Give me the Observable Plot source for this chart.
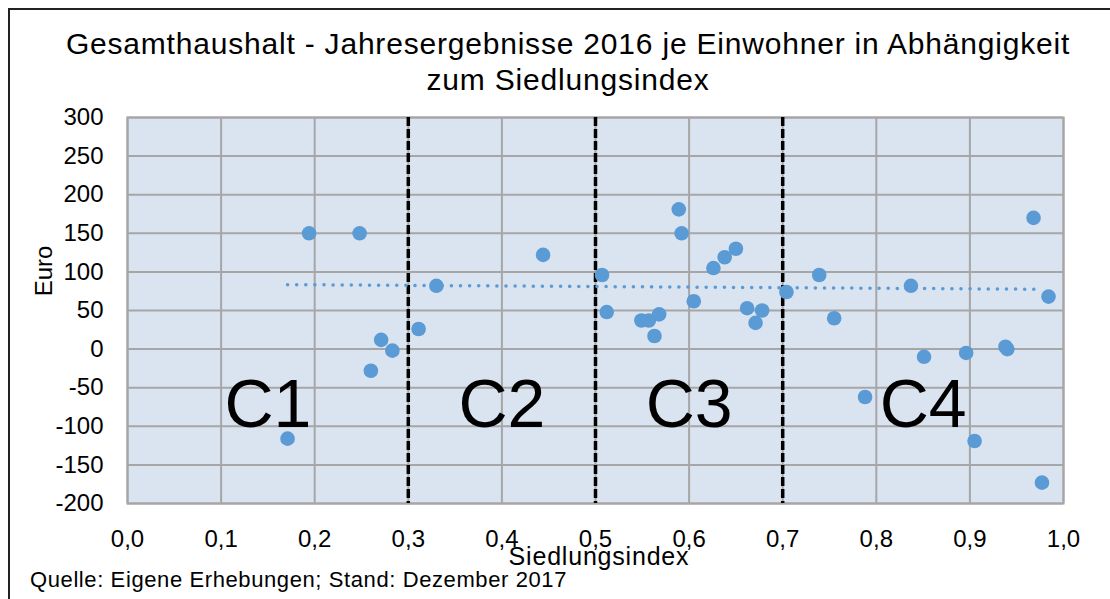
<!DOCTYPE html>
<html>
<head>
<meta charset="utf-8">
<script src="https://cdn.jsdelivr.net/npm/d3@7"></script>
<script src="https://cdn.jsdelivr.net/npm/@observablehq/plot@0.6"></script>
<style>
  html, body { margin: 0; padding: 0; background: #fff; }
  #wrap { position: relative; width: 1110px; height: 599px; overflow: hidden; font-family: "Liberation Sans", Arial, sans-serif; color: #000; }
  #border { position: absolute; left: 8px; top: 8px; width: 1110px; height: 600px; border-left: 2px solid #222; border-top: 2px solid #222; box-sizing: border-box; }
  #title { position: absolute; left: 0; top: 26px; width: 1136px; text-align: center; font-size: 30px; letter-spacing: 0.8px; line-height: 36px; }
  #chart { position: absolute; left: 0; top: 100px; }
  #ylab { position: absolute; left: 44px; top: 271px; font-size: 24px; transform: translate(-50%, -50%) rotate(-90deg); white-space: nowrap; }
  #xlab { position: absolute; left: 599px; top: 544px; font-size: 25px; line-height: 1; letter-spacing: 0.8px; transform: translateX(-50%); white-space: nowrap; }
  #caption { position: absolute; left: 30px; top: 569px; font-size: 22px; line-height: 1; letter-spacing: 0.6px; white-space: nowrap; }
</style>
</head>
<body>
<div id="wrap">
  <div id="border"></div>
  <div id="title">Gesamthaushalt - Jahresergebnisse 2016 je Einwohner in Abhängigkeit<br>zum Siedlungsindex</div>
  <div id="chart"></div>
  <div id="ylab">Euro</div>
  <div id="xlab">Siedlungsindex</div>
  <div id="caption">Quelle: Eigene Erhebungen; Stand: Dezember 2017</div>
</div>
<script>
// Siedlungsindex of each municipality
const siedlungsindex = [
  0.171, 0.194, 0.248, 0.260, 0.271, 0.283,
  0.311, 0.330, 0.444,
  0.507, 0.512, 0.549, 0.557, 0.563, 0.568, 0.589, 0.592, 0.605, 0.626, 0.638, 0.650, 0.662, 0.671, 0.678,
  0.704, 0.739, 0.755, 0.788, 0.837, 0.851, 0.896, 0.905, 0.938, 0.940, 0.968, 0.977, 0.984
];
// Jahresergebnis 2016 je Einwohner (Euro)
const euro = [
  -116, 150, 150, -28, 12, -2,
  26, 82, 122,
  96, 48, 37, 37, 17, 45, 181, 150, 62, 105, 119, 130, 53, 34, 50,
  74, 96, 40, -62, 82, -10, -5, -119, 3, 0, 170, -173, 68
];
// linear trend line
const trendX = [0.171, 0.977];
const trendY = [83.5, 77.5];
// class boundaries and labels
const classBounds = [0, 0.3, 0.5, 0.7, 1.0];
const classLabels = ["C1", "C2", "C3", "C4"];
const classLabelY = -101;
// ticks
const xTicks = [0, 0.1, 0.2, 0.3, 0.4, 0.5, 0.6, 0.7, 0.8, 0.9, 1.0];
const yTicks = [-200, -150, -100, -50, 0, 50, 100, 150, 200, 250, 300];

const points = siedlungsindex.map((x, i) => ({x, y: euro[i]}));
const trend = trendX.map((x, i) => ({x, y: trendY[i]}));
const dividers = classBounds.slice(1, -1);
const labels = classLabels.map((t, i) => ({t, x: (classBounds[i] + classBounds[i + 1]) / 2, y: classLabelY}));

const blue = "#5B9BD5";
const grid = "#A6A6A6";

const plot = Plot.plot({
  width: 1110,
  height: 460,
  marginTop: 17,
  marginBottom: 57,
  marginLeft: 127,
  marginRight: 47,
  style: {fontFamily: "'Liberation Sans', Arial, sans-serif", fontSize: "24px", color: "#000", background: "transparent"},
  x: {domain: [0, 1]},
  y: {domain: [-200, 300]},
  marks: [
    Plot.frame({fill: "#DAE3F0"}),
    Plot.gridX(xTicks, {stroke: grid, strokeOpacity: 1, strokeWidth: 2}),
    Plot.gridY(yTicks, {stroke: grid, strokeOpacity: 1, strokeWidth: 2}),
    Plot.frame({stroke: grid, strokeWidth: 2}),
    Plot.axisX(xTicks, {tickSize: 0, tickPadding: 26, tickFormat: d => d.toFixed(1).replace(".", ","), fontSize: 24, label: null}),
    Plot.axisY(yTicks, {tickSize: 0, tickPadding: 24, tickFormat: d => String(d), fontSize: 24, label: null}),
    Plot.ruleX(dividers, {stroke: "#000", strokeWidth: 3.5, strokeDasharray: "9,3"}),
    Plot.line(trend, {x: "x", y: "y", stroke: blue, strokeWidth: 3.5, strokeLinecap: "round", strokeDasharray: "0.1,9"}),
    Plot.dot(points, {x: "x", y: "y", r: 7.3, fill: blue, stroke: "none"}),
    Plot.text(labels, {x: "x", y: "y", text: "t", fontSize: 68, lineAnchor: "bottom", textAnchor: "middle", fill: "#000"})
  ]
});
document.getElementById("chart").appendChild(plot);
</script>
</body>
</html>
